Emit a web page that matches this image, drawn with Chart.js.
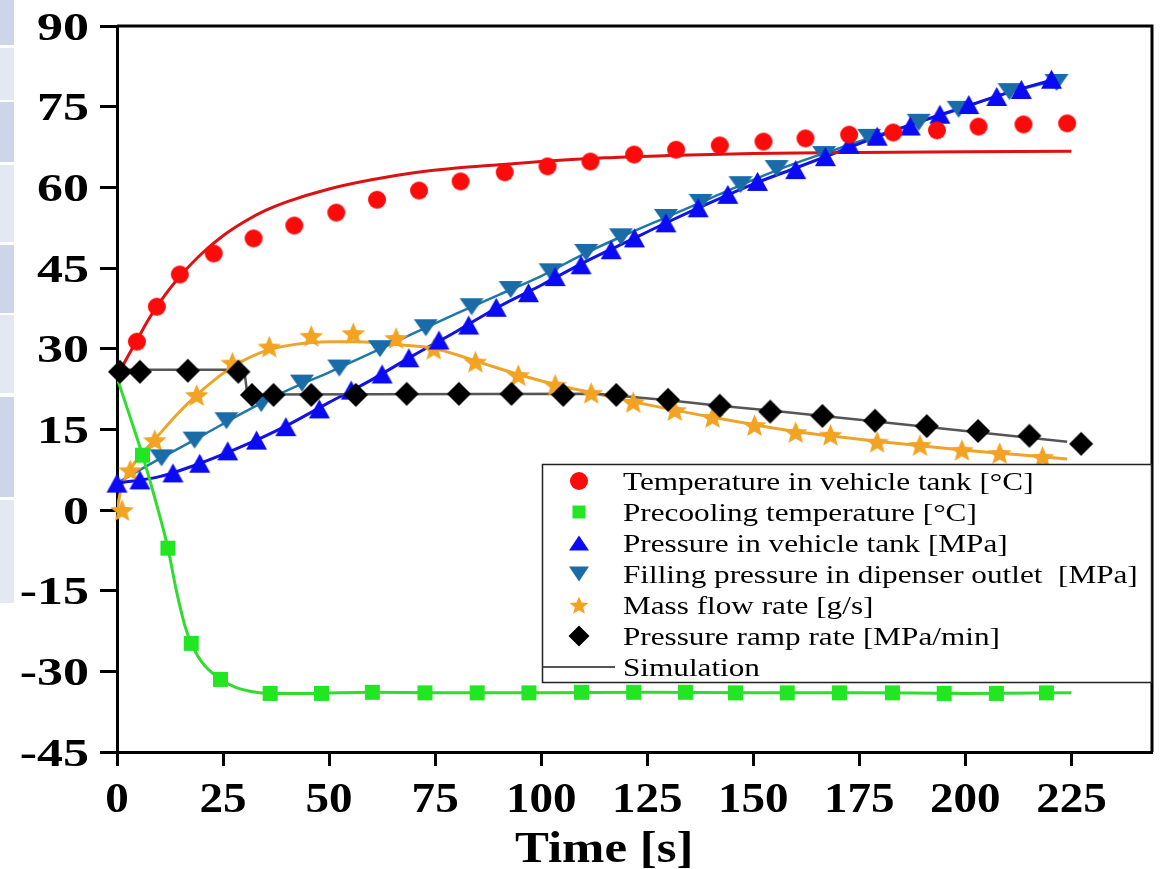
<!DOCTYPE html>
<html>
<head>
<meta charset="utf-8">
<script src="https://cdn.jsdelivr.net/npm/chart.js@4.4.1/dist/chart.umd.min.js"></script>
<style>
  body { margin: 0; background: #fff; }
  #wrap { position: relative; width: 1163px; height: 869px; }
  .strip { position: absolute; left: 0; width: 14px; }
</style>
</head>
<body>
<div id="wrap">
  <canvas id="fillChart" width="1163" height="869"></canvas>
  <div class="strip" style="top:0;height:45px;background:#cdd6e8"></div>
  <div class="strip" style="top:48px;height:52px;background:#e3e8f2"></div>
  <div class="strip" style="top:102px;height:60px;background:#cdd6e8"></div>
  <div class="strip" style="top:165px;height:77px;background:#e3e8f2"></div>
  <div class="strip" style="top:245px;height:68px;background:#cdd6e8"></div>
  <div class="strip" style="top:315px;height:78px;background:#e3e8f2"></div>
  <div class="strip" style="top:397px;height:100px;background:#cdd6e8"></div>
  <div class="strip" style="top:500px;height:103px;background:#e3e8f2"></div>
</div>
<script>
// axis ticks
const xTicks = [0, 25, 50, 75, 100, 125, 150, 175, 200, 225];
const yTicks = [-45, -30, -15, 0, 15, 30, 45, 60, 75, 90];

// Temperature in vehicle tank (measured)
const tempT = [4.7, 9.4, 14.8, 22.8, 32.2, 41.8, 51.7, 61.3, 71.2, 81.0, 91.4, 101.5, 111.6, 121.9, 131.8, 142.1, 152.4, 162.3, 172.6, 183.0, 193.3, 203.1, 213.7, 224.0];
const tempV = [31.3, 37.8, 43.8, 47.7, 50.5, 52.9, 55.3, 57.7, 59.4, 61.1, 62.8, 63.9, 64.8, 66.1, 67.0, 67.8, 68.5, 69.1, 69.8, 70.2, 70.6, 71.3, 71.7, 71.9];
// Precooling temperature (measured)
const precT = [6.0, 12.0, 17.5, 24.4, 36.1, 48.2, 60.2, 72.6, 84.9, 97.1, 109.5, 121.8, 134.0, 145.8, 158.0, 170.3, 182.8, 195.0, 207.3, 219.1];
const precV = [10.2, -7.1, -24.8, -31.5, -34.1, -34.1, -33.9, -34.0, -34.0, -34.0, -33.9, -33.9, -33.9, -34.0, -34.0, -34.0, -34.0, -34.1, -34.1, -34.0];
// Pressure in vehicle tank (measured)
const presT = [0, 5.4, 13.2, 19.5, 26.1, 32.9, 39.8, 47.7, 55.2, 62.5, 68.8, 75.9, 82.9, 89.4, 97.0, 103.3, 109.4, 116.5, 122.0, 129.4, 137.0, 144.0, 151.0, 160.0, 167.0, 172.6, 179.2, 187.0, 194.0, 200.8, 207.4, 213.2, 220.3];
const presV = [5.0, 5.6, 6.9, 8.7, 11.0, 13.0, 15.5, 18.8, 22.3, 25.3, 28.3, 31.6, 34.4, 37.7, 40.4, 43.4, 45.6, 48.4, 50.6, 53.4, 56.2, 58.7, 61.1, 63.3, 65.7, 68.0, 69.5, 71.4, 73.6, 75.4, 76.9, 78.2, 80.1];
// Filling pressure in dispenser outlet (measured)
const fillT = [10.5, 18.3, 25.8, 34.0, 43.6, 52.4, 62.0, 72.8, 83.6, 92.8, 102.2, 110.6, 118.8, 129.4, 137.6, 147.0, 155.5, 166.7, 177.3, 189.0, 198.4, 210.4, 221.5];
const fillV = [9.7, 13.0, 16.6, 19.8, 23.6, 26.4, 30.0, 33.9, 37.8, 41.0, 44.3, 47.9, 50.8, 54.4, 57.2, 60.5, 63.5, 66.1, 69.3, 72.1, 74.5, 77.8, 79.5];
// Mass flow rate (measured)
const flowT = [1.2, 3.1, 8.9, 18.8, 27.2, 35.9, 45.8, 55.7, 65.8, 74.7, 84.5, 94.6, 103.3, 111.8, 121.7, 131.5, 140.4, 150.3, 160.0, 168.2, 179.2, 189.3, 199.2, 208.1, 218.2];
const flowV = [0.0, 7.4, 13.0, 21.4, 27.4, 30.4, 32.4, 32.9, 32.0, 30.0, 27.6, 25.1, 23.3, 21.8, 20.1, 18.6, 17.3, 15.8, 14.5, 14.0, 12.7, 12.1, 11.2, 10.6, 9.9];
// Pressure ramp rate (measured)
const rampT = [0.7, 5.4, 16.7, 28.6, 31.8, 36.9, 45.8, 56.3, 68.3, 80.6, 93.0, 105.2, 117.7, 129.9, 142.1, 154.0, 166.3, 178.7, 190.9, 203.0, 215.1, 227.3];
const rampV = [25.7, 25.7, 25.9, 25.7, 21.4, 21.4, 21.4, 21.4, 21.6, 21.6, 21.6, 21.4, 21.4, 20.5, 19.4, 18.3, 17.5, 16.6, 15.6, 14.7, 13.8, 12.3];

// simulation curves
const simTempT = [0, 2.5, 5, 7.5, 10, 12.5, 15, 20, 25, 30, 35, 40, 50, 60, 70, 80, 90, 100, 115, 130, 150, 175, 200, 225];
const simTempV = [24.8, 28.5, 32.0, 35.5, 38.5, 41.2, 43.6, 47.7, 51.0, 53.6, 55.7, 57.3, 59.7, 61.4, 62.7, 63.6, 64.2, 64.8, 65.5, 65.9, 66.3, 66.5, 66.6, 66.7];
const simPrecT = [0, 3, 6, 9, 12, 14, 16, 17.5, 20, 24.4, 28, 32, 36, 45, 60, 75, 100, 125, 150, 175, 200, 225];
const simPrecV = [24.6, 17.5, 10.2, 2.0, -7.1, -15.0, -21.5, -24.8, -28.3, -31.5, -33.0, -33.8, -34.1, -34.1, -33.9, -34.0, -34.0, -33.9, -34.0, -34.0, -34.1, -34.0];
const simPresT = [0, 10, 20, 30, 40, 50, 60, 70, 80, 90, 100, 110, 120, 130, 140, 150, 160, 170, 180, 190, 200, 210, 222];
const simPresV = [5.0, 6.2, 8.8, 12.0, 15.7, 20.0, 24.2, 28.8, 33.2, 37.8, 41.8, 46.0, 49.8, 53.6, 57.2, 60.6, 63.6, 66.6, 69.6, 72.4, 75.0, 77.6, 80.3];
const simFillT = [0, 10, 20, 30, 40, 50, 60, 70, 80, 90, 100, 110, 120, 130, 140, 150, 160, 170, 180, 190, 200, 210, 222];
const simFillV = [5.0, 9.5, 13.8, 18.2, 22.2, 25.6, 29.2, 32.9, 36.5, 40.0, 43.5, 47.6, 51.2, 54.6, 58.0, 61.4, 64.5, 67.2, 69.9, 72.4, 74.9, 77.6, 80.0];
const simFlowT = [0, 1, 3, 6, 9, 13, 18, 23, 28, 35, 42, 50, 57, 65, 75, 85, 95, 105, 115, 125, 140, 150, 160, 170, 180, 190, 200, 212, 224];
const simFlowV = [0, 4.0, 7.4, 10.6, 13.2, 16.8, 20.8, 24.2, 27.0, 29.6, 30.8, 31.3, 31.3, 30.8, 30.0, 27.6, 25.1, 23.0, 21.3, 19.6, 17.3, 15.9, 14.6, 13.6, 12.7, 11.9, 11.1, 10.3, 9.5];
const simRampT = [0, 30.0, 30.8, 34, 113, 130, 142, 154, 175, 200, 224];
const simRampV = [26.1, 26.1, 21.0, 21.5, 21.6, 20.4, 19.4, 18.5, 16.8, 14.7, 12.7];

const legendLabels = [
    'Temperature in vehicle tank [\u00B0C]',
    'Precooling temperature [\u00B0C]',
    'Pressure in vehicle tank [MPa]',
    'Filling pressure in dipenser outlet  [MPa]',
    'Mass flow rate [g/s]',
    'Pressure ramp rate [MPa/min]',
    'Simulation'
];

const SERIF = '"Liberation Serif", "Times New Roman", serif';

const pts = (xs, ys) => xs.map((x, i) => ({ x: x, y: ys[i] }));

// outline of a marker shape centred on x,y
function shapePath(g, kind, x, y, w, h) {
    g.beginPath();
    if (kind === 'circle') {
        g.ellipse(x, y, w / 2, h / 2, 0, 0, Math.PI * 2);
    } else if (kind === 'square') {
        g.rect(x - w / 2, y - h / 2, w, h);
    } else if (kind === 'up') {
        g.moveTo(x, y - h / 2); g.lineTo(x + w / 2, y + h / 2); g.lineTo(x - w / 2, y + h / 2);
    } else if (kind === 'down') {
        g.moveTo(x - w / 2, y - h / 2); g.lineTo(x + w / 2, y - h / 2); g.lineTo(x, y + h / 2);
    } else if (kind === 'diamond') {
        g.moveTo(x, y - h / 2); g.lineTo(x + w / 2, y); g.lineTo(x, y + h / 2); g.lineTo(x - w / 2, y);
    } else if (kind === 'star') {
        const outer = w / 2, inner = w * 0.22;
        for (let i = 0; i < 10; i++) {
            const r = i % 2 ? inner : outer;
            const a = -Math.PI / 2 + i * Math.PI / 5;
            g.lineTo(x + r * Math.cos(a), y + outer * 0.1 + r * Math.sin(a) * (h / w));
        }
    }
    g.closePath();
}

function drawMarker(g, kind, x, y, w, h, color) {
    g.save();
    shapePath(g, kind, x, y, w, h);
    g.fillStyle = color;
    g.fill();
    g.restore();
}

function icon(kind, w, h, color) {
    const c = document.createElement('canvas');
    c.width = w + 2;
    c.height = h + 2;
    drawMarker(c.getContext('2d'), kind, c.width / 2, c.height / 2, w, h, color);
    return c;
}

const RED = '#ff0a0a', GREEN = '#22e622', BLUE = '#0a0af5', TEAL = '#1a6ca8', ORANGE = '#f2a323', BLACK = '#000000';

const markers = [
    { kind: 'circle', w: 18, h: 18, color: RED, lw: 18, lh: 18 },
    { kind: 'square', w: 15, h: 15, color: GREEN, lw: 13, lh: 13 },
    { kind: 'up', w: 21, h: 19, color: BLUE, lw: 20, lh: 15 },
    { kind: 'down', w: 24, h: 17, color: TEAL, lw: 20, lh: 15 },
    { kind: 'star', w: 25, h: 24, color: ORANGE, lw: 20, lh: 19 },
    { kind: 'diamond', w: 24, h: 24, color: BLACK, lw: 21, lh: 21 }
];

function markerSet(xs, ys, m) {
    return {
        data: pts(xs, ys),
        showLine: false,
        pointStyle: icon(m.kind, m.w, m.h, m.color),
        pointRadius: 10,
        clip: false
    };
}

function simSet(xs, ys, color, width, smooth) {
    return {
        data: pts(xs, ys),
        showLine: true,
        borderColor: color,
        borderWidth: width,
        pointRadius: 0,
        cubicInterpolationMode: smooth ? 'monotone' : 'default',
        tension: 0
    };
}

function stretchText(ctx, text, x, y, font, align, sx) {
    ctx.save();
    ctx.font = font;
    ctx.fillStyle = '#000';
    ctx.textAlign = align;
    ctx.textBaseline = 'alphabetic';
    ctx.translate(x, y);
    ctx.scale(sx, 1);
    ctx.fillText(text, 0, 0);
    ctx.restore();
}

// frame, tick labels, axis title and legend
const framePlugin = {
    id: 'frame',
    afterDraw(chart) {
        const ctx = chart.ctx;
        const a = chart.chartArea;
        const xs = chart.scales.x, ys = chart.scales.y;

        ctx.save();
        ctx.strokeStyle = '#000';
        ctx.lineWidth = 3;
        ctx.beginPath();
        ctx.moveTo(a.left, a.top);
        ctx.lineTo(a.right, a.top);
        ctx.lineTo(a.right, a.bottom);
        ctx.stroke();
        ctx.restore();

        yTicks.forEach(v => {
            stretchText(ctx, String(v), 89, ys.getPixelForValue(v) + 13.5, 'bold 40px ' + SERIF, 'right', 1.3);
        });
        xTicks.forEach(v => {
            stretchText(ctx, String(v), xs.getPixelForValue(v), 812, 'bold 42px ' + SERIF, 'center', 1.12);
        });
        stretchText(ctx, 'Time [s]', xs.getPixelForValue(112.5) + 10, 862, 'bold 45px ' + SERIF, 'center', 1.13);

        // legend box
        const lx = 542.5, ly = 464.5, lw = 609, lh = 218;
        ctx.save();
        ctx.fillStyle = '#fff';
        ctx.fillRect(lx, ly, lw, lh);
        ctx.strokeStyle = '#222';
        ctx.lineWidth = 1.5;
        ctx.strokeRect(lx, ly, lw, lh);
        ctx.restore();

        legendLabels.forEach((label, i) => {
            const base = 490 + i * 31;
            const cy = base - 9;
            if (i < markers.length) {
                const m = markers[i];
                drawMarker(ctx, m.kind, 579, cy, m.lw, m.lh, m.color);
            } else {
                ctx.save();
                ctx.strokeStyle = '#555';
                ctx.lineWidth = 2;
                ctx.beginPath();
                ctx.moveTo(543, cy);
                ctx.lineTo(615, cy);
                ctx.stroke();
                ctx.restore();
            }
            stretchText(ctx, label, 623, base, '26px ' + SERIF, 'left', 1.2);
        });
    }
};

document.addEventListener('DOMContentLoaded', function() {
    const ctx = document.getElementById('fillChart').getContext('2d');
    new Chart(ctx, {
        type: 'scatter',
        data: {
            datasets: [
                markerSet(rampT, rampV, markers[5]),
                markerSet(tempT, tempV, markers[0]),
                markerSet(precT, precV, markers[1]),
                markerSet(presT, presV, markers[2]),
                markerSet(fillT, fillV, markers[3]),
                markerSet(flowT, flowV, markers[4]),
                simSet(simRampT, simRampV, '#555555', 2.5, false),
                simSet(simTempT, simTempV, '#dd1111', 3, true),
                simSet(simPrecT, simPrecV, '#2fdc2f', 3, true),
                simSet(simPresT, simPresV, '#1212e6', 3, true),
                simSet(simFillT, simFillV, '#1f78a8', 2.5, true),
                simSet(simFlowT, simFlowV, '#eca42a', 3, true)
            ]
        },
        options: {
            responsive: false,
            animation: false,
            devicePixelRatio: 1,
            layout: {
                padding: { left: 0, top: 26, right: 8, bottom: 0 }
            },
            scales: {
                x: {
                    type: 'linear',
                    min: 0,
                    max: 244,
                    afterBuildTicks: axis => { axis.ticks = xTicks.map(v => ({ value: v })); },
                    afterFit: scale => { scale.height = 117; },
                    ticks: { display: false },
                    grid: {
                        drawOnChartArea: false,
                        drawTicks: true,
                        tickLength: 14,
                        tickWidth: 3,
                        tickColor: '#000'
                    },
                    border: { display: true, color: '#000', width: 3 }
                },
                y: {
                    type: 'linear',
                    min: -45,
                    max: 90,
                    afterBuildTicks: axis => { axis.ticks = yTicks.map(v => ({ value: v })); },
                    afterFit: scale => { scale.width = 117; },
                    ticks: { display: false },
                    grid: {
                        drawOnChartArea: false,
                        drawTicks: true,
                        tickLength: 17,
                        tickWidth: 3,
                        tickColor: '#000'
                    },
                    border: { display: true, color: '#000', width: 3 }
                }
            },
            plugins: {
                legend: { display: false },
                tooltip: { enabled: false }
            }
        },
        plugins: [framePlugin]
    });
});
</script>
</body>
</html>
